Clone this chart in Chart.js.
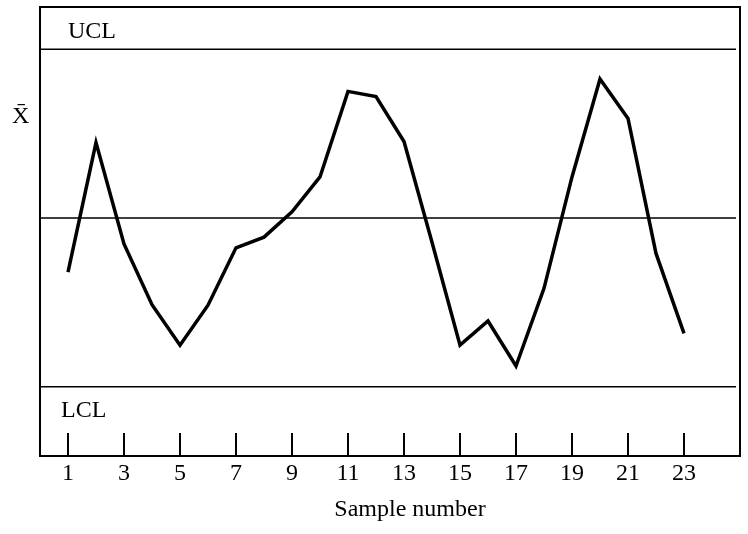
<!DOCTYPE html>
<html><head><meta charset="utf-8">
<script src="https://cdn.jsdelivr.net/npm/chart.js@4/dist/chart.umd.min.js"></script>
<style>html,body{margin:0;padding:0;background:#fff}</style>
</head><body>
<canvas id="c" width="748" height="534"></canvas>
<script>
const samples = [1,2,3,4,5,6,7,8,9,10,11,12,13,14,15,16,17,18,19,20,21,22,23];
const xbar = [-0.96,1.34,-0.46,-1.54,-2.26,-1.55,-0.53,-0.34,0.11,0.73,2.25,2.16,1.36,-0.43,-2.26,-1.83,-2.63,-1.25,0.73,2.47,1.77,-0.63,-2.05];
const tickLabels = [1,3,5,7,9,11,13,15,17,19,21,23];
const centerLine = 0;
const ucl = 3;
const lcl = -3;
const xTitle = 'Sample number';
const FONT = '"Liberation Serif", "Times New Roman", serif';

const overlay = {
  id: 'overlay',
  beforeDatasetsDraw(chart) {
    const {ctx, chartArea: a, scales: {y}} = chart;
    ctx.save();
    ctx.strokeStyle = '#000';
    ctx.lineWidth = 1.6;
    [ucl, centerLine, lcl].forEach(v => {
      const py = y.getPixelForValue(v);
      ctx.beginPath();
      ctx.moveTo(a.left, py);
      ctx.lineTo(a.right - 4, py);
      ctx.stroke();
    });
    ctx.restore();
  },
  afterDraw(chart) {
    const {ctx, chartArea: a, scales: {x, y}} = chart;
    ctx.save();
    ctx.strokeStyle = '#000';
    ctx.lineWidth = 2;
    ctx.strokeRect(a.left, a.top, a.right - a.left, a.bottom - a.top);
    x.ticks.forEach(t => {
      const px = Math.round(x.getPixelForValue(t.value));
      ctx.beginPath();
      ctx.moveTo(px, a.bottom);
      ctx.lineTo(px, a.bottom - 23);
      ctx.stroke();
    });
    ctx.fillStyle = '#000';
    ctx.font = '24px ' + FONT;
    ctx.textBaseline = 'alphabetic';
    ctx.textAlign = 'left';
    ctx.fillText('UCL', x.getPixelForValue(1), y.getPixelForValue(ucl) - 11);
    ctx.fillText('LCL', x.getPixelForValue(0.75), y.getPixelForValue(lcl) + 30);
    ctx.fillText('X\u0304', 12, y.getPixelForValue(1.69));
    ctx.textAlign = 'center';
    ctx.textBaseline = 'middle';
    ctx.fillText(xTitle, a.left + 370, a.bottom + 54);
    ctx.restore();
  }
};

new Chart(document.getElementById('c'), {
  type: 'line',
  data: {
    datasets: [{
      data: samples.map((s, i) => ({x: s, y: xbar[i]})),
      borderColor: '#000',
      borderWidth: 3.5,
      pointRadius: 0,
      tension: 0,
      fill: false
    }]
  },
  options: {
    responsive: false,
    animation: false,
    devicePixelRatio: 1,
    layout: {padding: {left: 40, right: 8, top: 7, bottom: 0}},
    plugins: {legend: {display: false}, tooltip: {enabled: false}},
    scales: {
      x: {
        type: 'linear',
        min: 0,
        max: 25,
        afterBuildTicks: s => { s.ticks = tickLabels.map(v => ({value: v})); },
        afterFit: s => { s.height = 78; },
        grid: {display: false, drawTicks: false},
        border: {display: false},
        ticks: {
          color: '#000',
          font: {family: FONT, size: 24},
          padding: 3,
          maxRotation: 0,
          autoSkip: false
        },
        title: {display: false}
      },
      y: {
        display: false,
        min: -4.23,
        max: 3.75
      }
    }
  },
  plugins: [overlay]
});
</script>
</body></html>
